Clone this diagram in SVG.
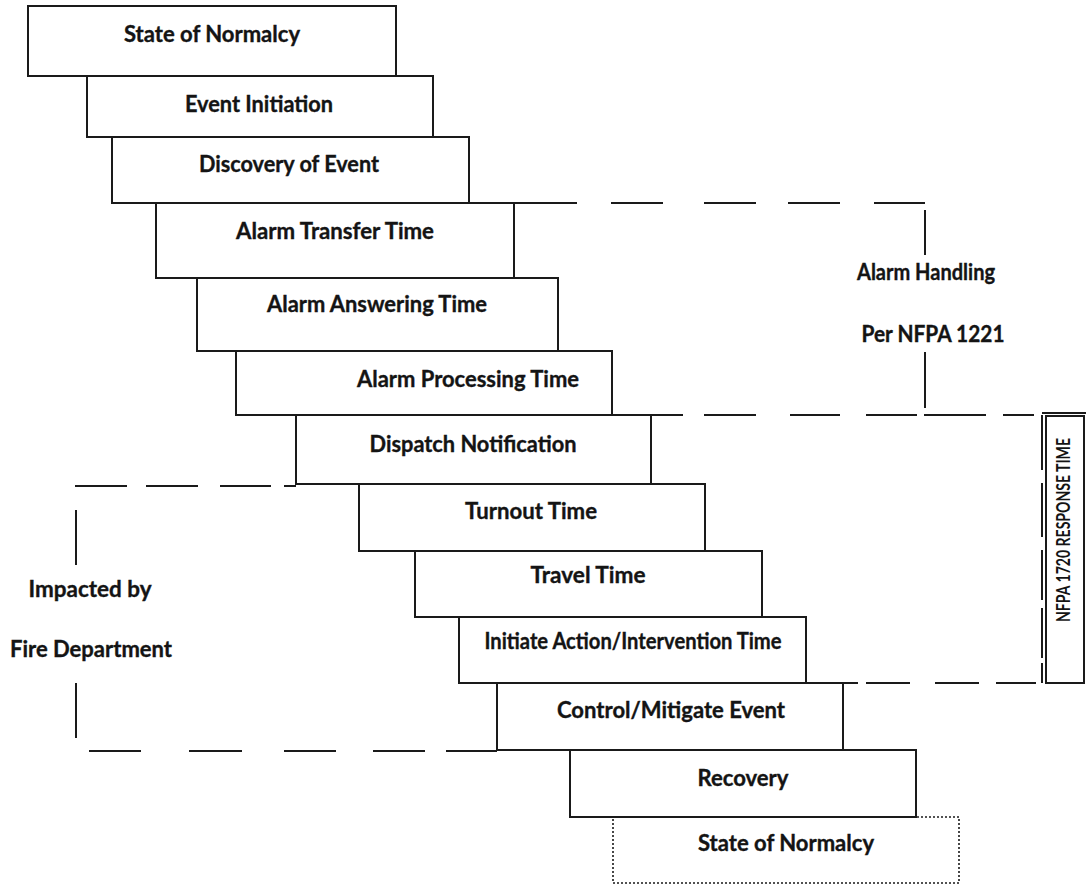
<svg xmlns="http://www.w3.org/2000/svg" width="1086" height="884" viewBox="0 0 1086 884">
<style>
.box{fill:#fff;stroke:#1a1a1a;stroke-width:2}
.dot{fill:#fff;stroke:#1a1a1a;stroke-width:1.6;stroke-dasharray:2 2}
.t{font-family:Lato,"Open Sans","Liberation Sans",sans-serif;font-weight:bold;font-size:22px;fill:#141414;stroke:#141414;stroke-width:0.35;text-anchor:middle}
.ln{fill:none;stroke:#1a1a1a;stroke-width:2}
.vt{font-family:Lato,"Open Sans","Liberation Sans",sans-serif;font-weight:bold;font-size:18px;fill:#141414;text-anchor:middle}
</style>
<rect width="1086" height="884" fill="#fff"/>
<g id="connectors">
<path class="ln" d="M514 203H577M611 203H663M704 203H756M788 203H840M874 203H925"/>
<path class="ln" d="M925 210V255M925 352V408"/>
<path class="ln" d="M651 415H683M704 415H756M790 415H840M866 415H917M924 415H986M1003 415H1034"/>
<path class="ln" d="M843 683H858M866 683H910M935 683H979M996 683H1036"/>
<path class="ln" d="M75 486H127M146 486H198M220 486H271M284 486H296"/>
<path class="ln" d="M76 510V565M76 683V738"/>
<path class="ln" d="M89 751H141M189 751H242M284 751H336M373 751H425M446 751H497"/>
<path class="ln" d="M1042 413H1086"/>
<path class="ln" d="M1042 415V470M1042 483V537M1042 550V600M1042 608V658M1042 663V683"/>
</g>
<g id="label-alarm-handling">
<text class="t" x="926" y="280" textLength="138" lengthAdjust="spacingAndGlyphs">Alarm Handling</text>
<text class="t" x="933" y="342" textLength="143" lengthAdjust="spacingAndGlyphs">Per NFPA 1221</text>
</g>
<g id="label-fire-dept">
<text class="t" x="90" y="597" textLength="123" lengthAdjust="spacingAndGlyphs">Impacted by</text>
<text class="t" x="91" y="657" textLength="162" lengthAdjust="spacingAndGlyphs">Fire Department</text>
</g>
<g id="nfpa1720">
<rect class="box" x="1046" y="416" width="38" height="267"/>
<text class="vt" transform="translate(1070 530) rotate(-90)" textLength="184" lengthAdjust="spacingAndGlyphs">NFPA 1720 RESPONSE  TIME</text>
</g>
<g id="n1"><rect class="box" x="28" y="6" width="368" height="70"/><text class="t" x="212" y="42" textLength="176" lengthAdjust="spacingAndGlyphs">State of Normalcy</text></g>
<g id="n2"><rect class="box" x="87" y="76" width="346" height="61"/><text class="t" x="259" y="112" textLength="148" lengthAdjust="spacingAndGlyphs">Event Initiation</text></g>
<g id="n3"><rect class="box" x="112" y="137" width="357" height="66"/><text class="t" x="289" y="172" textLength="180" lengthAdjust="spacingAndGlyphs">Discovery of Event</text></g>
<g id="n4"><rect class="box" x="156" y="203" width="358" height="75"/><text class="t" x="335" y="239" textLength="198" lengthAdjust="spacingAndGlyphs">Alarm Transfer Time</text></g>
<g id="n5"><rect class="box" x="197" y="278" width="361" height="73"/><text class="t" x="377" y="312" textLength="220" lengthAdjust="spacingAndGlyphs">Alarm Answering Time</text></g>
<g id="n6"><rect class="box" x="236" y="351" width="376" height="64"/><text class="t" x="468" y="387" textLength="222" lengthAdjust="spacingAndGlyphs">Alarm Processing Time</text></g>
<g id="n7"><rect class="box" x="296" y="415" width="355" height="69"/><text class="t" x="473" y="452" textLength="207" lengthAdjust="spacingAndGlyphs">Dispatch Notification</text></g>
<g id="n8"><rect class="box" x="359" y="484" width="346" height="67"/><text class="t" x="531" y="519" textLength="132" lengthAdjust="spacingAndGlyphs">Turnout Time</text></g>
<g id="n9"><rect class="box" x="415" y="551" width="347" height="66"/><text class="t" x="588" y="583" textLength="115" lengthAdjust="spacingAndGlyphs">Travel Time</text></g>
<g id="n10"><rect class="box" x="459" y="617" width="347" height="66"/><text class="t" x="633" y="649" textLength="297" lengthAdjust="spacingAndGlyphs">Initiate Action/Intervention Time</text></g>
<g id="n11"><rect class="box" x="497" y="683" width="346" height="67"/><text class="t" x="671" y="718" textLength="228" lengthAdjust="spacingAndGlyphs">Control/Mitigate Event</text></g>
<g id="n13"><rect class="dot" x="613" y="817" width="346" height="66"/><text class="t" x="786" y="851" textLength="176" lengthAdjust="spacingAndGlyphs">State of Normalcy</text></g>
<g id="n12"><rect class="box" x="570" y="750" width="346" height="67"/><text class="t" x="743" y="786" textLength="91" lengthAdjust="spacingAndGlyphs">Recovery</text></g>
</svg>
